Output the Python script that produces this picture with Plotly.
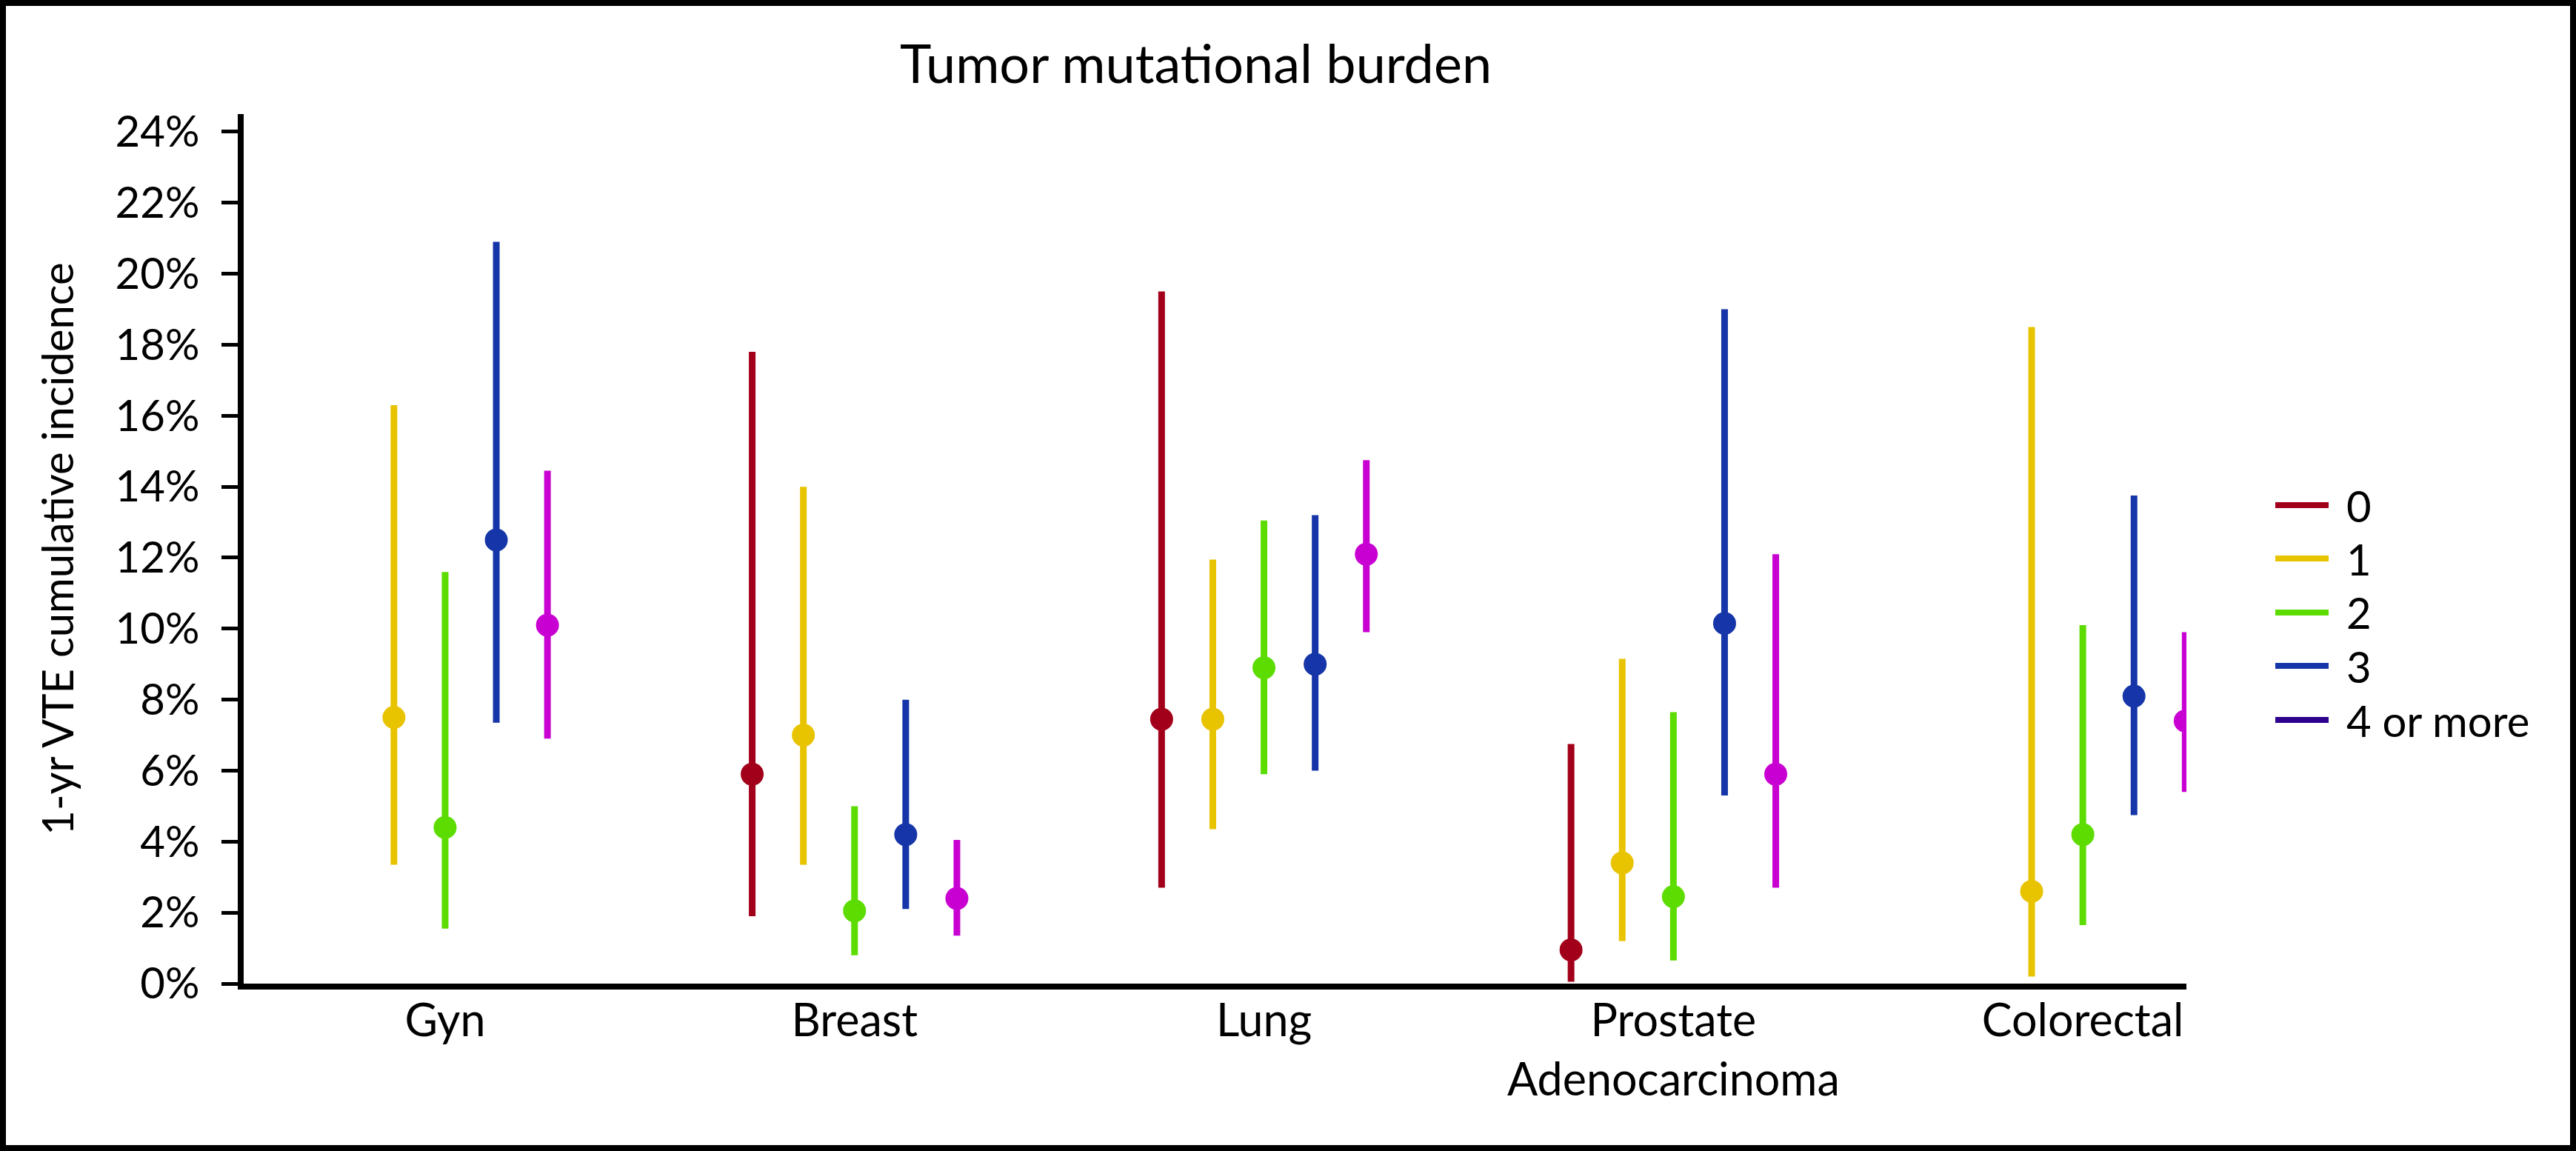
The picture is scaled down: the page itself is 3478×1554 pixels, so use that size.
import plotly.graph_objects as go

# ---------------- data ----------------
categories = ["Gyn", "Breast", "Lung", "Prostate<br>Adenocarcinoma", "Colorectal"]
series_names = ["0", "1", "2", "3", "4 or more"]

est_0 = [None, 5.9, 7.45, 0.95, None]
low_0 = [None, 1.9, 2.7, 0.05, None]
high_0 = [None, 17.8, 19.5, 6.75, None]

est_1 = [7.5, 7.0, 7.45, 3.4, 2.6]
low_1 = [3.35, 3.35, 4.35, 1.2, 0.2]
high_1 = [16.3, 14.0, 11.95, 9.15, 18.5]

est_2 = [4.4, 2.05, 8.9, 2.45, 4.2]
low_2 = [1.55, 0.8, 5.9, 0.65, 1.65]
high_2 = [11.6, 5.0, 13.05, 7.65, 10.1]

est_3 = [12.5, 4.2, 9.0, 10.15, 8.1]
low_3 = [7.35, 2.1, 6.0, 5.3, 4.75]
high_3 = [20.9, 8.0, 13.2, 19.0, 13.75]

est_4 = [10.1, 2.4, 12.1, 5.9, 7.4]
low_4 = [6.9, 1.35, 9.9, 2.7, 5.4]
high_4 = [14.45, 4.05, 14.75, 12.1, 9.9]

y_ticks = [0, 2, 4, 6, 8, 10, 12, 14, 16, 18, 20, 22, 24]

# ---------------- styles ----------------
point_colors = ["#A2001A", "#E8C300", "#5CDC00", "#1535A8", "#C800D2"]
legend_colors = ["#A2001A", "#E8C300", "#5CDC00", "#1535A8", "#2E008E"]
offsets = [-0.25, -0.125, 0.0, 0.125, 0.25]
FONT = "Lato, 'Open Sans', sans-serif"

W, H = 3478, 1554
ML, MR, MT, MB = 329, 526, 154, 226
PW, PH = W - ML - MR, H - MT - MB


def xp(px):
    return (px - ML) / PW


def yp(py):
    return (H - MB - py) / PH


series = [
    (est_0, low_0, high_0),
    (est_1, low_1, high_1),
    (est_2, low_2, high_2),
    (est_3, low_3, high_3),
    (est_4, low_4, high_4),
]

fig = go.Figure()
for k, (est, low, high) in enumerate(series):
    xs, ys, up, dn = [], [], [], []
    for i, (e, lo, hi) in enumerate(zip(est, low, high)):
        if e is None:
            continue
        xs.append(i + offsets[k])
        ys.append(e)
        up.append(hi - e)
        dn.append(e - lo)
    fig.add_trace(go.Scatter(
        x=xs, y=ys, mode="markers", name=series_names[k], showlegend=False,
        marker=dict(size=31, color=point_colors[k], line=dict(width=0)),
        error_y=dict(type="data", symmetric=False, array=up, arrayminus=dn,
                     thickness=9, width=0, color=point_colors[k]),
    ))

shapes = [
    dict(type="rect", xref="paper", yref="paper",
         x0=xp(4), x1=xp(W - 4), y0=yp(H - 4), y1=yp(4),
         line=dict(color="black", width=8), fillcolor="rgba(0,0,0,0)", layer="above"),
]
annotations = [
    dict(text="Tumor mutational burden", xref="paper", yref="paper",
         x=xp(1614), y=yp(84), xanchor="center", yanchor="middle",
         showarrow=False, font=dict(family=FONT, size=72, color="black")),
]

row_y = [682, 754, 827, 899, 972]
for k, name in enumerate(series_names):
    shapes.append(dict(type="line", xref="paper", yref="paper",
                       x0=xp(3072), x1=xp(3144), y0=yp(row_y[k]), y1=yp(row_y[k]),
                       line=dict(color=legend_colors[k], width=8)))
    annotations.append(dict(text=name, xref="paper", yref="paper",
                            x=xp(3166), y=yp(row_y[k]), xanchor="left", yanchor="middle",
                            showarrow=False, font=dict(family=FONT, size=58, color="black")))

fig.update_layout(
    width=W, height=H,
    margin=dict(l=ML, r=MR, t=MT, b=MB, pad=0),
    paper_bgcolor="white", plot_bgcolor="white",
    showlegend=False,
    font=dict(family=FONT, color="black"),
    shapes=shapes, annotations=annotations,
    xaxis=dict(
        range=[-0.492, 4.253], tickvals=list(range(len(categories))), ticktext=categories,
        showline=True, linewidth=8, linecolor="black", ticks="",
        showgrid=False, zeroline=False, ticklabelstandoff=-10,
        tickfont=dict(family=FONT, size=61, color="black"),
    ),
    yaxis=dict(
        range=[0, 24.5], tickvals=y_ticks, ticktext=[f"{v}%" for v in y_ticks],
        showline=True, linewidth=8, linecolor="black",
        ticks="outside", ticklen=22, tickwidth=5, tickcolor="black",
        showgrid=False, zeroline=False, ticklabelstandoff=18,
        tickfont=dict(family=FONT, size=58, color="black"),
        title=dict(text="1-yr VTE cumulative incidence", standoff=40,
                   font=dict(family=FONT, size=58, color="black")),
    ),
)

fig.write_html("out.html", config={"displayModeBar": False},
               post_script="document.body.style.margin='0';document.body.style.overflow='hidden';")
